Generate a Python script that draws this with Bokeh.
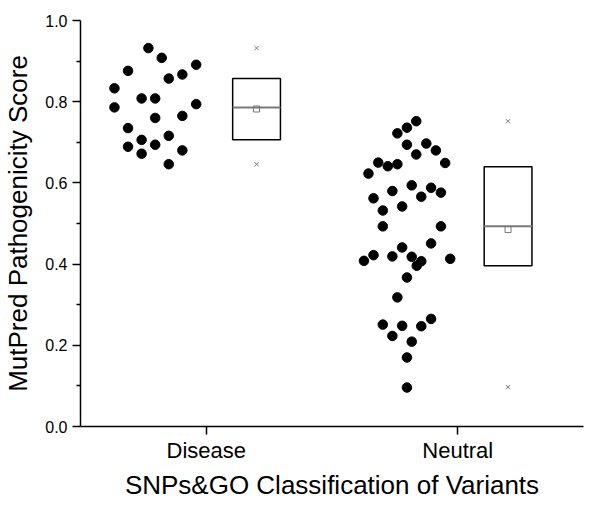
from bokeh.plotting import figure
from bokeh.models import FixedTicker, PrintfTickFormatter, ColumnDataSource
from bokeh.embed import file_html
from bokeh.resources import INLINE

# ---- data ----
categories = ["Disease", "Neutral"]
category_pos = [1, 2]

disease_x = [0.770, 0.823, 0.689, 0.960, 0.905, 0.851, 0.635, 0.635, 0.743, 0.797,
             0.960, 0.905, 0.797, 0.689, 0.851, 0.743, 0.797, 0.689, 0.743, 0.905, 0.851]
disease_y = [0.932, 0.908, 0.876, 0.891, 0.867, 0.857, 0.833, 0.786, 0.808, 0.808,
             0.794, 0.765, 0.760, 0.735, 0.716, 0.706, 0.694, 0.689, 0.672, 0.680, 0.646]

neutral_x = [1.835, 1.798, 1.760, 1.798, 1.875, 1.913, 1.835, 1.950, 1.684, 1.722,
             1.760, 1.645, 1.740, 1.817, 1.894, 1.665, 1.855, 1.933, 1.702, 1.779,
             1.702, 1.933, 1.779, 1.894, 1.665, 1.627, 1.740, 1.817, 1.855, 1.837,
             1.970, 1.798, 1.760, 1.702, 1.779, 1.855, 1.894, 1.740, 1.817, 1.798, 1.798]
neutral_y = [0.752, 0.736, 0.722, 0.694, 0.697, 0.680, 0.670, 0.649, 0.650, 0.641,
             0.646, 0.623, 0.580, 0.594, 0.588, 0.562, 0.566, 0.576, 0.532, 0.542,
             0.493, 0.493, 0.441, 0.451, 0.422, 0.408, 0.419, 0.418, 0.407, 0.396,
             0.413, 0.367, 0.318, 0.251, 0.248, 0.247, 0.265, 0.223, 0.209, 0.170, 0.096]

box_center = [1.2, 2.2]
box_q1 = [0.706, 0.396]
box_median = [0.786, 0.493]
box_q3 = [0.857, 0.640]
box_mean = [0.782, 0.485]
box_min = [0.646, 0.097]
box_max = [0.932, 0.752]

y_ticks = [0.0, 0.2, 0.4, 0.6, 0.8, 1.0]
y_minor = [0.1, 0.3, 0.5, 0.7, 0.9]

FONT = "Liberation Sans"
BOX_W = 0.19

p = figure(width=584, height=502, x_range=(0.5, 2.5), y_range=(0.0, 1.0),
           output_backend="svg", toolbar_location=None,
           min_border_left=74, min_border_right=1, min_border_top=20, min_border_bottom=70)
p.outline_line_color = None
p.xgrid.visible = False
p.ygrid.visible = False
p.background_fill_color = "white"
p.border_fill_color = "white"

# dots
p.scatter(disease_x, disease_y, size=9.5, color="black")
p.scatter(neutral_x, neutral_y, size=9.5, color="black")

# boxes
src = ColumnDataSource(dict(
    left=[c - BOX_W / 2 for c in box_center],
    right=[c + BOX_W / 2 for c in box_center],
    q1=box_q1, q3=box_q3, med=box_median, mean=box_mean,
    mn=box_min, mx=box_max, x=box_center))
p.quad(left="left", right="right", bottom="q1", top="q3", source=src,
       fill_color=None, line_color="black", line_width=1.5)
p.segment(x0="left", x1="right", y0="med", y1="med", source=src,
          line_color="#7a7a7a", line_width=2)
p.scatter(x="x", y="mean", source=src, marker="square", size=6,
          fill_color=None, line_color="#777777", line_width=1)
p.scatter(x="x", y="mn", source=src, marker="x", size=6,
          line_color="#777777", line_width=1)
p.scatter(x="x", y="mx", source=src, marker="x", size=6,
          line_color="#777777", line_width=1)

# axes
xa = p.xaxis[0]
xa.ticker = FixedTicker(ticks=category_pos)
xa.major_label_overrides = {pos: lab for pos, lab in zip(category_pos, categories)}
xa.axis_label = "SNPs&GO Classification of Variants"
xa.minor_tick_line_color = None

ya = p.yaxis[0]
ya.ticker = FixedTicker(ticks=y_ticks, minor_ticks=y_minor)
ya.formatter = PrintfTickFormatter(format="%.1f")
ya.axis_label = "MutPred Pathogenicity Score"

for ax in (xa, ya):
    ax.axis_line_width = 1.5
    ax.axis_line_color = "black"
    ax.major_tick_line_color = "black"
    ax.major_tick_line_width = 1.5
    ax.major_tick_in = 0
    ax.major_tick_out = 8
    ax.axis_label_text_font = FONT
    ax.axis_label_text_font_style = "normal"
    ax.axis_label_text_color = "black"
    ax.major_label_text_font = FONT
    ax.major_label_text_color = "black"

ya.minor_tick_line_color = "black"
ya.minor_tick_line_width = 1.5
ya.minor_tick_in = 0
ya.minor_tick_out = 4
ya.major_label_text_font_size = "16px"
ya.axis_label_text_font_size = "26px"
ya.major_label_standoff = 5
ya.axis_label_standoff = 9

xa.major_label_text_font_size = "22px"
xa.axis_label_text_font_size = "26px"
xa.major_label_standoff = 3
xa.axis_label_standoff = 4

open("out.html", "w").write(file_html(p, INLINE))
